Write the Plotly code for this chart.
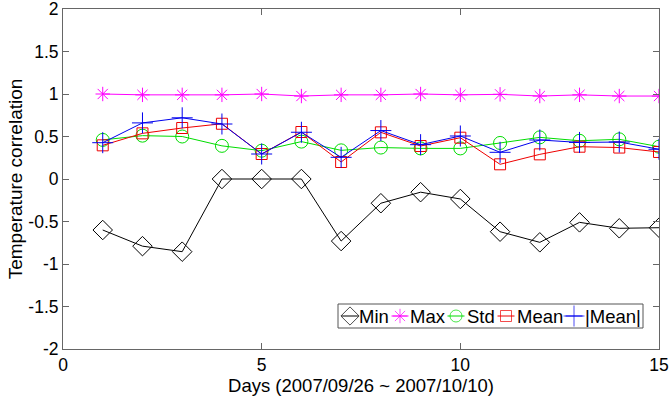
import plotly.graph_objects as go

days = list(range(1, 16))
corr_min = [-0.60, -0.79, -0.855, 0.0, 0.0, 0.0, -0.73, -0.285, -0.155, -0.235, -0.62, -0.745, -0.51, -0.58, -0.573]
corr_max = [1.0, 0.99, 0.99, 0.99, 1.0, 0.976, 0.99, 0.99, 1.0, 0.99, 0.996, 0.976, 0.99, 0.976, 0.976]
corr_std = [0.46, 0.51, 0.50, 0.39, 0.333, 0.44, 0.337, 0.37, 0.36, 0.36, 0.424, 0.49, 0.45, 0.467, 0.38]
corr_mean = [0.396, 0.537, 0.60, 0.65, 0.294, 0.553, 0.20, 0.549, 0.388, 0.486, 0.173, 0.29, 0.38, 0.37, 0.318]
corr_absmean = [0.427, 0.66, 0.72, 0.647, 0.294, 0.55, 0.255, 0.57, 0.404, 0.506, 0.314, 0.459, 0.43, 0.435, 0.35]

series_names = ["Min", "Max", "Std", "Mean", "|Mean|"]
series_values = [corr_min, corr_max, corr_std, corr_mean, corr_absmean]

# styling per series: colour, marker symbol, marker size
styles = [
    ("black", "diamond-open", 15),
    ("#ff00ff", "asterisk-open", 12),
    ("#00dd00", "circle-open", 13),
    ("#ee0000", "square-open", 11),
    ("#0000ee", "cross-thin-open", 15),
]

FONT = "Liberation Sans, Arial, sans-serif"
W, H = 672, 396
ML, MR, MT, MB = 63, 13, 9, 47

fig = go.Figure()
for name, vals, (color, symbol, size) in zip(series_names, series_values, styles):
    fig.add_trace(go.Scatter(
        x=days, y=vals, name=name, mode="lines+markers", showlegend=False,
        line=dict(color=color, width=1),
        marker=dict(symbol=symbol, size=size, color=color,
                    line=dict(color=color, width=1)),
    ))

# Compact boxed legend (MATLAB style): short key line with marker, label right after.
# Laid out on a pixel-unit overlay axis pair covering the plot area.
legend_box = (338, 304, 643, 328)          # x0, y0, x1, y1 in page pixels
legend_cy = 316
key_centers = [350, 400, 456, 506, 574]
key_half = 8.5
label_starts = [358, 409, 466, 516, 584]
legend_sizes = [14, 12, 12, 11, 15]

fig.add_shape(type="rect", xref="x2", yref="y2",
              x0=legend_box[0], y0=legend_box[1], x1=legend_box[2], y1=legend_box[3],
              line=dict(color="#555555", width=1), fillcolor="white", layer="below")

for name, (color, symbol, _), cx, lx, ms in zip(series_names, styles, key_centers,
                                              label_starts, legend_sizes):
    fig.add_trace(go.Scatter(
        x=[cx - key_half, cx, cx + key_half], y=[legend_cy] * 3,
        xaxis="x2", yaxis="y2", mode="lines+markers", showlegend=False,
        hoverinfo="skip",
        line=dict(color=color, width=1),
        marker=dict(symbol=symbol, size=[0, ms, 0], color=color,
                    line=dict(color=color, width=1)),
    ))
    fig.add_annotation(x=lx, y=legend_cy, xref="x2", yref="y2", text=name,
                       showarrow=False, xanchor="left", yanchor="middle",
                       font=dict(family=FONT, size=18.5, color="black"),
                       borderpad=0)

axis_common = dict(
    showline=True, linecolor="#666666", linewidth=1, mirror="ticks",
    ticks="inside", ticklen=6, tickcolor="#666666",
    showgrid=False, zeroline=False, automargin=False,
    ticklabeloverflow="allow",
    tickfont=dict(family=FONT, size=17.5, color="black"),
)

fig.update_layout(
    width=W, height=H,
    margin=dict(l=ML, r=MR, t=MT, b=MB),
    paper_bgcolor="white", plot_bgcolor="white",
    font=dict(family=FONT, color="black"),
    showlegend=False,
    xaxis=dict(range=[0, 15], tickvals=[0, 5, 10, 15],
               title=dict(text="Days (2007/09/26 ~ 2007/10/10)",
                          font=dict(size=18.5), standoff=0),
               **axis_common),
    yaxis=dict(range=[-2, 2], tickvals=[-2, -1.5, -1, -0.5, 0, 0.5, 1, 1.5, 2],
               ticktext=["-2", "-1.5", "-1", "-0.5", "0", "0.5", "1", "1.5", "2"],
               title=dict(text="Temperature correlation",
                          font=dict(size=19), standoff=0),
               **axis_common),
    xaxis2=dict(overlaying="x", range=[ML, W - MR], visible=False, fixedrange=True),
    yaxis2=dict(overlaying="y", range=[H - MB, MT], visible=False, fixedrange=True),
)

fig.write_html("out.html")
